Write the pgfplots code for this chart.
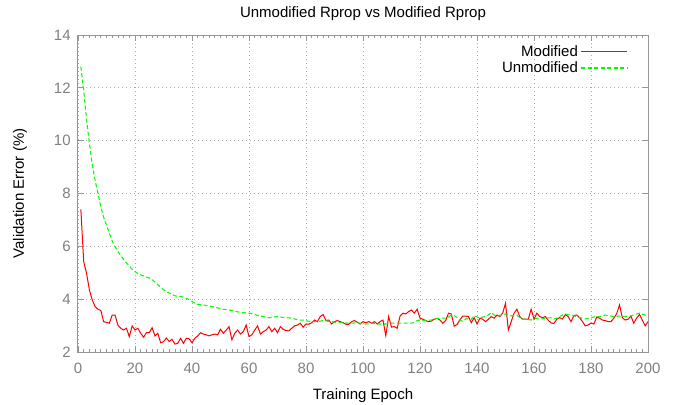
\documentclass[border=0pt]{standalone}
\usepackage{fontspec}
\setmainfont{Liberation Sans}
\usepackage{pgfplots}
\pgfplotsset{compat=1.18}
\usepackage{pgfplotstable}
\definecolor{tickgray}{RGB}{128,128,128}
\definecolor{bordergray}{RGB}{150,150,150}
\definecolor{gridgray}{RGB}{170,170,170}

\pgfplotstableread{
e v
1 7.40
2 5.42
3 4.98
4 4.35
5 3.97
6 3.72
7 3.62
8 3.57
9 3.15
10 3.12
11 3.09
12 3.40
13 3.40
14 3.02
15 2.90
16 2.83
17 2.90
18 2.58
19 2.99
20 2.83
21 2.90
22 2.71
23 2.56
24 2.73
25 2.73
26 2.92
27 2.61
28 2.71
29 2.35
30 2.39
31 2.53
32 2.40
33 2.48
34 2.30
35 2.33
36 2.52
37 2.33
38 2.52
39 2.50
40 2.35
41 2.52
42 2.61
43 2.73
44 2.68
45 2.65
46 2.61
47 2.65
48 2.68
49 2.65
50 2.86
51 2.71
52 2.83
53 2.96
54 2.46
55 2.71
56 2.83
57 2.68
58 2.77
59 3.02
60 2.58
61 2.65
62 2.83
63 2.99
64 2.68
65 2.77
66 2.83
67 2.96
68 2.77
69 2.90
70 2.73
71 2.96
72 2.86
73 2.81
74 2.80
75 2.90
76 2.99
77 3.02
78 3.09
79 2.94
80 3.06
81 3.05
82 3.11
83 3.21
84 3.15
85 3.34
86 3.42
87 3.19
88 3.21
89 3.06
90 3.15
91 3.19
92 3.15
93 3.11
94 3.05
95 3.05
96 3.15
97 3.19
98 3.13
99 3.06
100 3.15
101 3.11
102 3.15
103 3.09
104 3.15
105 3.06
106 3.15
107 3.21
108 2.62
109 3.34
110 2.94
111 2.96
112 2.90
113 3.36
114 3.47
115 3.44
116 3.53
117 3.59
118 3.47
119 3.62
120 3.28
121 3.24
122 3.19
123 3.15
124 3.17
125 3.24
126 3.28
127 3.21
128 3.09
129 3.19
130 3.47
131 3.44
132 2.98
133 3.04
134 3.22
135 3.36
136 3.36
137 3.34
138 3.11
139 3.30
140 3.06
141 3.28
142 3.24
143 3.15
144 3.24
145 3.34
146 3.28
147 3.40
148 3.34
149 3.47
150 3.84
151 2.83
152 3.15
153 3.47
154 3.62
155 3.34
156 3.24
157 3.24
158 3.24
159 3.62
160 3.24
161 3.47
162 3.34
163 3.30
164 3.34
165 3.20
166 3.10
167 3.08
168 3.24
169 3.30
170 3.25
171 3.42
172 3.34
173 3.15
174 3.38
175 3.40
176 3.30
177 3.15
178 2.99
179 3.02
180 3.10
181 3.06
182 3.32
183 3.28
184 3.21
185 3.19
186 3.15
187 3.15
188 3.28
189 3.45
190 3.78
191 3.30
192 3.21
193 3.24
194 3.36
195 3.09
196 3.28
197 3.42
198 3.21
199 2.99
200 3.15
}\modified

\pgfplotstableread{
e v
1 12.80
2 11.90
3 10.80
4 9.90
5 9.10
6 8.50
7 8.00
8 7.50
9 7.10
10 6.80
11 6.50
12 6.20
13 6.00
14 5.80
15 5.65
16 5.50
17 5.37
18 5.25
19 5.13
20 5.05
21 4.97
22 4.92
23 4.88
24 4.84
25 4.80
26 4.74
27 4.65
28 4.55
29 4.45
30 4.36
31 4.28
32 4.24
33 4.17
34 4.13
35 4.11
36 4.10
37 4.08
38 4.04
39 3.98
40 3.92
41 3.84
42 3.80
43 3.79
44 3.78
45 3.76
46 3.74
47 3.72
48 3.70
49 3.67
50 3.64
51 3.62
52 3.61
53 3.59
54 3.57
55 3.55
56 3.52
57 3.50
58 3.49
59 3.48
60 3.47
61 3.45
62 3.42
63 3.39
64 3.36
65 3.34
66 3.32
67 3.30
68 3.31
69 3.33
70 3.34
71 3.32
72 3.31
73 3.30
74 3.29
75 3.28
76 3.25
77 3.22
78 3.21
79 3.21
80 3.19
81 3.16
82 3.15
83 3.15
84 3.15
85 3.17
86 3.19
87 3.18
88 3.16
89 3.15
90 3.13
91 3.11
92 3.11
93 3.11
94 3.10
95 3.09
96 3.09
97 3.10
98 3.11
99 3.09
100 3.07
101 3.06
102 3.07
103 3.09
104 3.08
105 3.06
106 3.06
107 3.06
108 3.06
109 3.07
110 3.09
111 3.09
112 3.09
113 3.09
114 3.09
115 3.09
116 3.09
117 3.09
118 3.12
119 3.19
120 3.21
121 3.20
122 3.19
123 3.20
124 3.21
125 3.24
126 3.27
127 3.28
128 3.28
129 3.28
130 3.32
131 3.40
132 3.38
133 3.30
134 3.21
135 3.16
136 3.25
137 3.27
138 3.24
139 3.38
140 3.33
141 3.28
142 3.32
143 3.35
144 3.40
145 3.50
146 3.40
147 3.35
148 3.38
149 3.41
150 3.44
151 3.42
152 3.37
153 3.38
154 3.40
155 3.30
156 3.24
157 3.24
158 3.23
159 3.21
160 3.25
161 3.28
162 3.26
163 3.25
164 3.28
165 3.29
166 3.30
167 3.25
168 3.28
169 3.34
170 3.40
171 3.44
172 3.41
173 3.40
174 3.37
175 3.34
176 3.31
177 3.27
178 3.25
179 3.27
180 3.29
181 3.33
182 3.34
183 3.34
184 3.37
185 3.40
186 3.38
187 3.36
188 3.35
189 3.35
190 3.36
191 3.35
192 3.35
193 3.36
194 3.37
195 3.40
196 3.44
197 3.47
198 3.43
199 3.40
200 3.34
}\unmodified

\begin{document}
\begin{tikzpicture}
\begin{axis}[
  scale only axis,
  width=427.5pt, height=237.75pt,
  xmin=0, xmax=200, ymin=2, ymax=14,
  xtick distance=20, ytick distance=2,
  minor x tick num=9,
  font=\fontsize{11.25}{13}\selectfont,
  /pgf/number format/assume math mode=true,
  ticklabel style={text=tickgray},
  xticklabel shift=5pt,
  yticklabel shift=2pt,
  axis line style={bordergray, line width=0.75pt},
  tick style={bordergray, line width=0.6pt},
  major tick length=4.5pt, minor tick length=2pt,
  tick align=inside,
  grid=major,
  major grid style={gridgray, line width=0.7pt, dash pattern=on 0.75pt off 2.25pt},
  title={Unmodified Rprop vs Modified Rprop},
  title style={at={(axis description cs:0.5,1.066)}, anchor=center, yshift=-6pt},
  xlabel={Training Epoch},
  xlabel style={at={(axis description cs:0.5,-0.138)}, anchor=center},
  ylabel={Validation Error (\%)},
  ylabel style={at={(axis description cs:-0.1018,0.5)}, anchor=center},
  legend plot pos=right,
  legend cell align=right,
  legend image code/.code={\draw[#1, line width=0.9pt] plot coordinates {(0pt,0pt) (17pt,0pt) (34.5pt,0pt)};},
  legend style={at={(axis description cs:0.972,0.985)}, anchor=north east,
    draw=none, fill=none, row sep=-1.5pt},
]
\addplot[red, line width=0.75pt] table[x=e, y=v] {\modified};
\addlegendentry{Modified}
\addplot[green, line width=0.8pt, dash pattern=on 3pt off 1.9pt] table[x=e, y=v] {\unmodified};
\addlegendentry{Unmodified}
\end{axis}
\pgfresetboundingbox
\path[use as bounding box] (current axis.south west) ++(-58.5pt,-39pt) rectangle ++(507.75pt,303pt);
\end{tikzpicture}
\end{document}
